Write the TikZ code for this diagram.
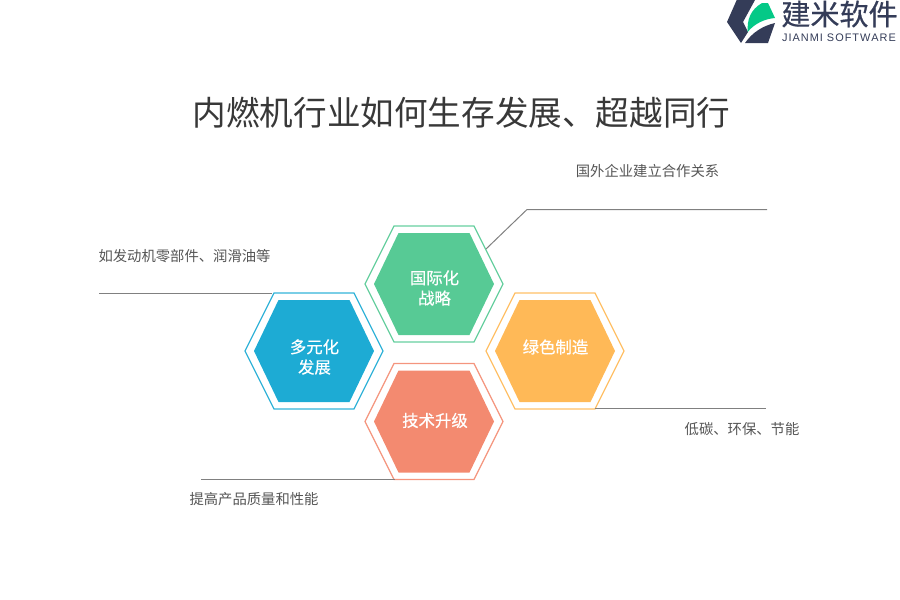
\documentclass[tikz,border=0pt]{standalone}
\usepackage{fontspec}
\setmainfont{Noto Sans CJK SC}
\newfontfamily\latinf{Liberation Sans}
\newfontfamily\medf[FakeBold=0.5]{Noto Sans CJK SC}
\definecolor{cgreen}{HTML}{57CA95}
\definecolor{cblue}{HTML}{1DABD4}
\definecolor{corange}{HTML}{FFB957}
\definecolor{cred}{HTML}{F38A70}
\definecolor{navy}{HTML}{343C58}
\definecolor{logogreen}{HTML}{04C987}
\definecolor{ltext}{HTML}{555555}
\definecolor{lline}{HTML}{808080}
\tikzset{
  x=0.75pt,y=-0.75pt,
  outerhex/.style={line width=0.9pt},
  lead/.style={draw=lline,line width=0.75pt},
  lab/.style={font=\fontsize{10.75pt}{13pt}\selectfont,text=ltext,inner sep=0pt,anchor=center},
  hextext/.style={font=\medf\fontsize{12.3pt}{15.2pt}\selectfont,text=white,align=center,inner sep=0pt},
  hexa/.pic={
    \path[fill=#1] (-60,0)--(-35.5,-51)--(35.5,-51)--(60,0)--(35.5,51)--(-35.5,51)--cycle;
    \draw[#1,outerhex,opacity=.9] (-69,0)--(-40,-58)--(40,-58)--(69,0)--(40,58)--(-40,58)--cycle;
  }
}
\begin{document}
\begin{tikzpicture}
\useasboundingbox (0,0) rectangle (900,600);
% hexagons
\pic at (434,284) {hexa=cgreen};
\pic at (314,351) {hexa=cblue};
\pic at (555,351) {hexa=corange};
\pic at (434,421.5) {hexa=cred};
\node[hextext] (h1) at (434.5,288) {国际化\\战略};
\node[hextext] (h2) at (314.5,357) {多元化\\发展};
\node[hextext] (h3) at (555.5,347) {绿色制造};
\node[hextext] (h4) at (435,420.5) {技术升级};
% leaders
\coordinate (g0) at (486,249);
\coordinate (g1) at (527,209.5);
\coordinate (g2) at (767,209.5);
\draw[lead] (g0)--(g1)--(g2);
\coordinate (b0) at (99,293.5);
\coordinate (b1) at (272,293.5);
\draw[lead] (b0)--(b1);
\coordinate (o0) at (595,408.5);
\coordinate (o1) at (766,408.5);
\draw[lead] (o0)--(o1);
\coordinate (r0) at (201,479.5);
\coordinate (r1) at (395,479.5);
\draw[lead] (r0)--(r1);
% labels
\node[lab] (l1) at (647.5,171) {国外企业建立合作关系};
\node[lab] (l2) at (184.5,256) {如发动机零部件、润滑油等};
\node[lab] (l3) at (742,429) {低碳、环保、节能};
\node[lab] (l4) at (254,499) {提高产品质量和性能};
% title
\node[font=\fontsize{25.2pt}{30pt}\selectfont,text=black!78,inner sep=0pt] (title) at (461.5,113) {内燃机行业如何生存发展、超越同行};
% logo
\fill[navy] (736.7,0)--(755,0)--(743,22)--(748,32)--(741,43)--(727,22)--cycle;
\fill[navy] (745,43)--(768,43)--(775,23) .. controls (762,26) and (752,33) .. (745,43)--cycle;
\fill[logogreen] (747.7,32) .. controls (747,20) and (750,10) .. (762,3)--(768,3)--(775,18) .. controls (764,19) and (754,24) .. (747.7,32)--cycle;
\node[font=\medf\fontsize{21.8pt}{24pt}\selectfont,text=navy,inner sep=0pt] (logo1) at (839.5,14) {建米软件};
\node[font=\latinf\fontsize{8.2pt}{10pt}\selectfont,text=navy,inner sep=0pt] (logo2) at (839,38) {J\kern.75pt I\kern.75pt A\kern.75pt N\kern.75pt M\kern.75pt I\kern.75pt\ S\kern.75pt O\kern.75pt F\kern.75pt T\kern.75pt W\kern.75pt A\kern.75pt R\kern.75pt E};
\end{tikzpicture}
\end{document}
